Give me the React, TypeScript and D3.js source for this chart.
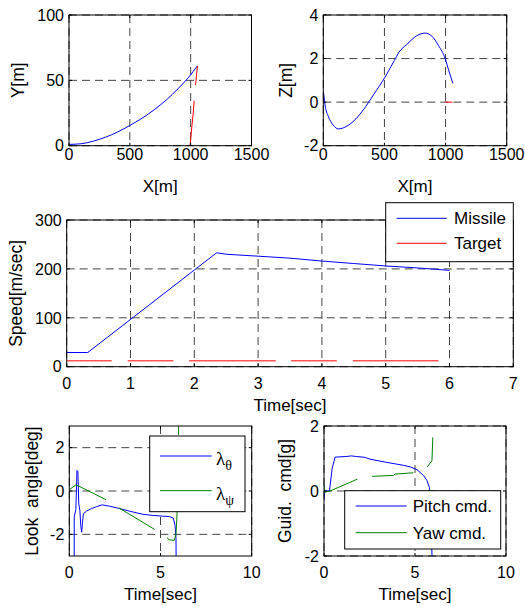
import { useEffect, useRef } from 'react';
import * as d3 from 'd3';

type Pt = [number, number];

// trajectory in X-Y plane [m]
const missileXY: Pt[] = [[0, 1], [100, 1.5], [200, 3.5], [300, 6.5], [400, 10.5], [500, 15.5], [600, 21], [700, 27.5], [800, 35], [900, 44], [985, 52.5], [1054, 61]];
const targetXY: Pt[] = [[995, 0], [1007, 12], [1021, 25], [1029, 35], [1040, 46.4], [1048, 54], [1056, 61]];

// trajectory in X-Z plane [m]
const missileXZ: Pt[] = [[0, 0.5], [5, 0.3], [14, -0.12], [41, -0.65], [82, -1.06], [123, -1.23], [164, -1.18], [246, -0.88], [328, -0.35], [410, 0.33], [505, 1.15], [580, 1.9], [620, 2.3], [683, 2.65], [765, 3.05], [833, 3.17], [888, 3.03], [942, 2.6], [997, 2.0], [1025, 1.47], [1060, 0.86]];
const targetXZ: Pt[] = [[995, 0], [1056, 0]];

// speed [m/sec] vs time [sec]
const missileSpeed: Pt[] = [[0, 29], [0.33, 29], [2.35, 233], [2.5, 230], [3, 226], [3.5, 222], [4, 216], [4.5, 211], [5, 206], [5.5, 202], [6, 197]];
const targetSpeed: Pt[] = [[0, 12], [5.85, 12]];

// look angles [deg]
const lookTheta: Pt[] = [[0.27, -3.4], [0.27, -1.2], [0.36, -0.85], [0.42, 0.95], [0.47, 0.9], [0.52, -0.6], [0.58, -0.9], [0.63, -1.6], [0.68, -1.9], [0.72, -1.5], [0.77, -1.05], [0.95, -0.92], [1.2, -0.82], [1.5, -0.72], [1.8, -0.64], [2.2, -0.7], [2.7, -0.8], [3.5, -0.97], [4.0, -1.07], [4.6, -1.13], [5.1, -1.16], [5.5, -1.18], [5.7, -1.25], [5.8, -1.6], [5.85, -2.2], [5.86, -3.5]];
const lookPsi: Pt[] = [[0, 0.06], [0.37, 0.29], [2.01, -0.4], [2.74, -0.79], [4.71, -1.79], [5.34, -2.1], [5.45, -2.25], [5.75, -2.28], [5.85, -2.0], [5.9, -1.2], [5.95, 0], [6.0, 3.3]];

// guidance commands [g]
const pitchCmd: Pt[] = [[0, -0.3], [0.02, 0], [0.3, 0], [0.45, 0.7], [0.61, 1.04], [0.8, 1.05], [1.2, 1.06], [1.5, 1.08], [1.8, 1.06], [2.2, 1.04], [2.53, 0.98], [3.45, 0.88], [4.37, 0.79], [4.74, 0.74], [5.1, 0.66], [5.48, 0.47], [5.66, 0.32], [5.79, 0.11], [5.85, -0.3], [5.95, -2.3]];
const yawCmd: Pt[] = [[0, 0.16], [0.02, -0.04], [0.33, 0], [1.86, 0.37], [2.63, 0.45], [3.82, 0.48], [3.9, 0.52], [4.9, 0.56], [5.66, 0.73], [5.93, 0.93], [5.98, 1.65]];

const posTicks = [0, 500, 1000, 1500];
const yTicks = [0, 50, 100];
const zTicks = [-2, 0, 2, 4];
const timeTicks = [0, 1, 2, 3, 4, 5, 6, 7];
const speedTicks = [0, 100, 200, 300];
const shortTimeTicks = [0, 5, 10];
const lookTicks = [-2, 0, 2];
const cmdTicks = [-2, 0, 2];

const FONT = '"Liberation Sans", Arial, sans-serif';
const BLUE = '#0000ff';
const RED = '#ff0000';
const GREEN = '#008000';

type Series = { data: Pt[]; color: string; dash?: string; smooth?: boolean };
type LegendItem = { label: string; sub?: string; color: string };
type Legend = { x: number; y: number; w: number; h: number; lineX0: number; lineX1: number; textX: number; rows: number[]; items: LegendItem[] };
type Panel = {
  id: string;
  left: number; right: number; top: number; bottom: number;
  xDomain: [number, number]; yDomain: [number, number];
  xTicks: number[]; yTicks: number[];
  xLabel: string; yLabel: string;
  xLabelY: number; yLabelX: number; xTickDy: number;
  series: Series[];
  legend?: Legend;
};

const panels: Panel[] = [
  {
    id: 'xy', left: 69, right: 251.5, top: 15, bottom: 145.7,
    xDomain: [0, 1500], yDomain: [0, 100], xTicks: posTicks, yTicks: yTicks,
    xLabel: 'X[m]', yLabel: 'Y[m]', xLabelY: 191.5, yLabelX: 24, xTickDy: 14,
    series: [
      { data: missileXY, color: BLUE, smooth: true },
      { data: targetXY, color: RED, dash: '45,16' },
    ],
  },
  {
    id: 'xz', left: 323.3, right: 506.7, top: 15, bottom: 145.7,
    xDomain: [0, 1500], yDomain: [-2, 4], xTicks: posTicks, yTicks: zTicks,
    xLabel: 'X[m]', yLabel: 'Z[m]', xLabelY: 191.5, yLabelX: 292, xTickDy: 14,
    series: [
      { data: missileXZ, color: BLUE, smooth: true },
      { data: targetXZ, color: RED, dash: '45,16' },
    ],
  },
  {
    id: 'spd', left: 66.7, right: 513.3, top: 220, bottom: 366.7,
    xDomain: [0, 7], yDomain: [0, 300], xTicks: timeTicks, yTicks: speedTicks,
    xLabel: 'Time[sec]', yLabel: 'Speed[m/sec]', xLabelY: 410.5, yLabelX: 22, xTickDy: 22,
    series: [
      { data: missileSpeed, color: BLUE },
      { data: targetSpeed, color: RED, dash: '45,16,45.7,15.7,86.7,15.3,45.7,16,85.7,16' },
    ],
    legend: {
      x: 385.7, y: 202.7, w: 127.6, h: 59, lineX0: 396.7, lineX1: 446.7, textX: 454, rows: [218.3, 243.3],
      items: [{ label: 'Missile', color: BLUE }, { label: 'Target', color: RED }],
    },
  },
  {
    id: 'look', left: 69.3, right: 251.7, top: 426, bottom: 556,
    xDomain: [0, 10], yDomain: [-3, 3], xTicks: shortTimeTicks, yTicks: lookTicks,
    xLabel: 'Time[sec]', yLabel: 'Look  angle[deg]', xLabelY: 600, yLabelX: 37.5, xTickDy: 22,
    series: [
      { data: lookTheta, color: BLUE },
      { data: lookPsi, color: GREEN, dash: '42,15' },
    ],
    legend: {
      x: 149.7, y: 436, w: 95.3, h: 75.7, lineX0: 160, lineX1: 211.7, textX: 216, rows: [456, 490.7],
      items: [{ label: 'λ', sub: 'θ', color: BLUE }, { label: 'λ', sub: 'ψ', color: GREEN }],
    },
  },
  {
    id: 'cmd', left: 324, right: 506, top: 426, bottom: 556,
    xDomain: [0, 10], yDomain: [-2, 2], xTicks: shortTimeTicks, yTicks: cmdTicks,
    xLabel: 'Time[sec]', yLabel: 'Guid.  cmd[g]', xLabelY: 600, yLabelX: 291, xTickDy: 22,
    series: [
      { data: pitchCmd, color: BLUE },
      { data: yawCmd, color: GREEN, dash: '42,15' },
    ],
    legend: {
      x: 344.7, y: 490.7, w: 156, h: 58.3, lineX0: 355.7, lineX1: 406.7, textX: 412.7, rows: [506, 532.7],
      items: [{ label: 'Pitch cmd.', color: BLUE }, { label: 'Yaw cmd.', color: GREEN }],
    },
  },
];

function drawPanel(svg: d3.Selection<SVGSVGElement, unknown, null, undefined>, p: Panel) {
  const x = d3.scaleLinear().domain(p.xDomain).range([p.left, p.right]);
  const y = d3.scaleLinear().domain(p.yDomain).range([p.bottom, p.top]);
  const g = svg.append('g');

  g.append('clipPath').attr('id', `clip-${p.id}`)
    .append('rect')
    .attr('x', p.left).attr('y', p.top)
    .attr('width', p.right - p.left).attr('height', p.bottom - p.top);

  // grid
  g.selectAll('.gx').data(p.xTicks).enter().append('line')
    .attr('x1', d => x(d)).attr('x2', d => x(d))
    .attr('y1', p.top).attr('y2', p.bottom)
    .attr('stroke', '#444').attr('stroke-dasharray', '8,5');
  g.selectAll('.gy').data(p.yTicks).enter().append('line')
    .attr('x1', p.left).attr('x2', p.right)
    .attr('y1', d => y(d)).attr('y2', d => y(d))
    .attr('stroke', '#444').attr('stroke-dasharray', '8,5');

  // data
  const dataG = g.append('g').attr('clip-path', `url(#clip-${p.id})`);
  p.series.forEach(s => {
    const line = d3.line<Pt>()
      .x(d => x(d[0])).y(d => y(d[1]))
      .curve(s.smooth ? d3.curveMonotoneX : d3.curveLinear);
    dataG.append('path')
      .attr('d', line(s.data))
      .attr('fill', 'none')
      .attr('stroke', s.color)
      .attr('stroke-width', 1)
      .attr('stroke-dasharray', s.dash || null);
  });

  // ticks, inside on all sides
  const tl = 3;
  p.xTicks.forEach(t => {
    g.append('line').attr('x1', x(t)).attr('x2', x(t)).attr('y1', p.bottom).attr('y2', p.bottom - tl).attr('stroke', '#000');
    g.append('line').attr('x1', x(t)).attr('x2', x(t)).attr('y1', p.top).attr('y2', p.top + tl).attr('stroke', '#000');
  });
  p.yTicks.forEach(t => {
    g.append('line').attr('x1', p.left).attr('x2', p.left + tl).attr('y1', y(t)).attr('y2', y(t)).attr('stroke', '#000');
    g.append('line').attr('x1', p.right).attr('x2', p.right - tl).attr('y1', y(t)).attr('y2', y(t)).attr('stroke', '#000');
  });

  g.append('rect')
    .attr('x', p.left).attr('y', p.top)
    .attr('width', p.right - p.left).attr('height', p.bottom - p.top)
    .attr('fill', 'none').attr('stroke', '#000');

  // tick labels
  g.selectAll('.xt').data(p.xTicks).enter().append('text')
    .attr('x', d => x(d)).attr('y', p.bottom + p.xTickDy)
    .attr('text-anchor', 'middle')
    .style('font', `16px ${FONT}`)
    .text(d => String(d));
  g.selectAll('.yt').data(p.yTicks).enter().append('text')
    .attr('x', p.left - 5).attr('y', d => y(d)).attr('dy', '0.36em')
    .attr('text-anchor', 'end')
    .style('font', `16px ${FONT}`)
    .text(d => String(d));

  // axis labels
  g.append('text')
    .attr('x', (p.left + p.right) / 2).attr('y', p.xLabelY)
    .attr('text-anchor', 'middle')
    .style('font', `17px ${FONT}`)
    .style('white-space', 'pre')
    .text(p.xLabel);
  g.append('text')
    .attr('transform', `translate(${p.yLabelX},${(p.top + p.bottom) / 2}) rotate(-90)`)
    .attr('text-anchor', 'middle')
    .style('font', `17.5px ${FONT}`)
    .style('white-space', 'pre')
    .text(p.yLabel);

  // legend
  if (p.legend) {
    const lg = p.legend;
    g.append('rect')
      .attr('x', lg.x).attr('y', lg.y).attr('width', lg.w).attr('height', lg.h)
      .attr('fill', '#fff').attr('stroke', '#000');
    lg.items.forEach((it, i) => {
      const ry = lg.rows[i];
      g.append('line')
        .attr('x1', lg.lineX0).attr('x2', lg.lineX1).attr('y1', ry).attr('y2', ry)
        .attr('stroke', it.color);
      if (it.sub) {
        const t = g.append('text')
          .attr('x', lg.textX).attr('y', ry + 9)
          .style('font', `19px "Liberation Serif", "Times New Roman", serif`);
        t.append('tspan').text(it.label);
        t.append('tspan').attr('dy', 5).style('font-size', '14px').text(it.sub);
      } else {
        g.append('text')
          .attr('x', lg.textX).attr('y', ry).attr('dy', '0.36em')
          .style('font', `17px ${FONT}`)
          .text(it.label);
      }
    });
  }
}

export default function App() {
  const svgRef = useRef<SVGSVGElement>(null);

  useEffect(() => {
    if (!svgRef.current) return;
    const svg = d3.select(svgRef.current);
    svg.selectAll('*').remove();
    panels.forEach(p => drawPanel(svg, p));
  }, []);

  return (
    <svg
      ref={svgRef}
      width={525}
      height={606}
      style={{ position: 'absolute', left: 0, top: 0, background: '#fff' }}
    />
  );
}
